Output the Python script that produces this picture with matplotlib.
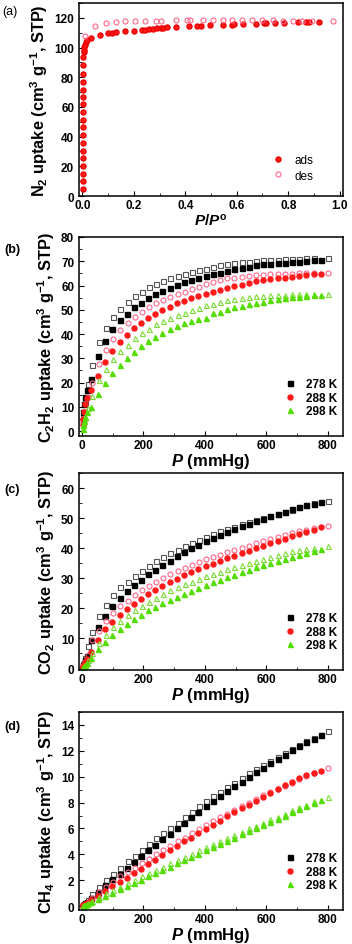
import matplotlib
matplotlib.use('Agg')
import matplotlib.pyplot as plt
from matplotlib.ticker import MultipleLocator

plt.rcParams.update({
    'font.family': ['Liberation Sans', 'DejaVu Sans'],
    'font.weight': 'bold',
    'mathtext.fontset': 'custom',
    'mathtext.rm': 'Liberation Sans:bold',
    'mathtext.it': 'Liberation Sans:bold:italic',
    'mathtext.bf': 'Liberation Sans:bold',
    'axes.linewidth': 1.1,
    'xtick.direction': 'in',
    'ytick.direction': 'in',
    'xtick.major.size': 3.5,
    'ytick.major.size': 3.5,
    'xtick.minor.size': 2,
    'ytick.minor.size': 2,
    'xtick.major.pad': 2.5,
    'xtick.labelsize': 8.5,
    'ytick.labelsize': 8.5,
})

# ---- (a) N2 isotherm ----
n2_ads_x = [0.002, 0.002, 0.002, 0.002, 0.002, 0.002, 0.002, 0.002, 0.002, 0.002,
            0.002, 0.002, 0.002, 0.003, 0.003, 0.003, 0.003, 0.004, 0.005, 0.006,
            0.008, 0.010, 0.013, 0.018, 0.035, 0.068, 0.100, 0.115, 0.130, 0.165,
            0.200, 0.230, 0.245, 0.260, 0.275, 0.290, 0.305, 0.315, 0.330, 0.365,
            0.415, 0.445, 0.460, 0.495, 0.545, 0.580, 0.590, 0.625, 0.675, 0.705,
            0.715, 0.750, 0.785, 0.840, 0.870, 0.880, 0.920]
n2_ads_y = [4.5, 9.8, 15, 20.2, 25.4, 30.6, 35.8, 41, 46.2, 51.4,
            56.6, 61.8, 67, 71.5, 77, 82.2, 88, 93.8, 96.8, 98.6,
            100.2, 102, 103.5, 105, 106.5, 108.3, 109.5, 110, 110.4, 111,
            111.4, 111.8, 112.1, 112.4, 112.7, 113, 113.2, 113.4, 113.7, 114,
            114.3, 114.5, 114.8, 115, 115.3, 115.5, 115.6, 115.8, 116, 116.2,
            116.3, 116.5, 116.8, 117, 117.2, 117.3, 117.5]
n2_des_x = [0.010, 0.050, 0.090, 0.130, 0.165, 0.205, 0.245, 0.285, 0.305, 0.365,
            0.405, 0.420, 0.467, 0.506, 0.545, 0.583, 0.622, 0.661, 0.700, 0.741,
            0.780, 0.819, 0.855, 0.894, 0.974]
n2_des_y = [107.5, 114.2, 116.2, 117, 117.6, 117.8, 118, 118.2, 118.2, 118.3,
            118.3, 118.3, 118.4, 118.4, 118.4, 118.4, 118.4, 118.4, 118.3, 118.3,
            118.2, 118.1, 118, 118, 117.8]

# ---- pressure points shared by panels (b)-(d), mmHg ----
p_ads = [2, 4, 7, 11, 16, 28, 51, 75, 98, 122, 145, 168, 192, 215, 239, 262, 286, 309, 332,
         356, 379, 403, 426, 449, 473, 496, 520, 543, 566, 590, 613, 637, 660, 683, 707,
         730, 754, 777]
p_des = [4, 9, 18, 31, 55, 78, 102, 125, 148, 171, 194, 217, 240, 264, 288, 311, 334, 357,
         380, 403, 426, 449, 473, 496, 520, 543, 566, 590, 613, 637, 660, 683, 707, 730,
         754, 800]

# ---- (b) C2H2 ----
c2h2_278_ads = [4, 8, 11, 14, 17, 21.5, 31, 37, 41.9, 45.6, 48.2, 51, 52.9, 54.7, 56.4, 57.9,
                59, 60.4, 61.4, 62.3, 63.2, 64, 64.7, 65.3, 66, 66.7, 67.1, 67.8, 68.4, 68.8,
                69, 69.1, 69.3, 69.5, 69.9, 70.3, 70.5, 70.7]
c2h2_278_des = [6, 12, 19.5, 27.3, 36.6, 42.6, 47.1, 50.5, 53.3, 55.6, 57.5, 59.2, 60.6, 61.8,
                62.9, 63.8, 64.6, 65.4, 66.2, 67, 67.8, 68.4, 68.9, 69.3, 69.6, 69.9, 70.1,
                70.4, 70.5, 70.7, 70.8, 71, 71.1, 71.2, 71.2, 71.2]
c2h2_288_ads = [2.5, 5, 8, 11, 13.5, 17, 22.8, 28.4, 33, 36.6, 39.8, 42.5, 44.7, 46.6, 48.2,
                49.8, 51.3, 52.6, 53.8, 54.9, 55.8, 56.4, 57.4, 58.2, 58.9, 59.7, 60.4, 61.1,
                61.8, 62.2, 62.6, 62.9, 63.3, 63.7, 64, 64.3, 64.6, 64.7]
c2h2_288_des = [4, 8, 14, 19.9, 27.8, 33.5, 38, 41.5, 44.5, 47, 49.2, 51, 52.6, 54, 55.3, 56.5,
                57.5, 58.5, 59.5, 60.8, 61.5, 62.2, 62.9, 63.3, 63.7, 64, 64.2, 64.4, 64.7,
                64.7, 64.9, 64.9, 65.1, 65.1, 65.1, 65.1]
c2h2_298_ads = [1, 2.5, 4, 6, 8, 10, 15.3, 20, 24, 27.3, 30.2, 32.7, 35, 37, 38.8, 40.5, 42,
                43.3, 44.4, 45.5, 46.2, 46.8, 48.5, 49.2, 50.3, 51, 51.6, 52.3, 53, 53.4, 54,
                54.4, 54.8, 55.1, 55.3, 55.8, 56, 56.2]
c2h2_298_des = [3, 6, 9.5, 14.5, 21, 25.8, 29.7, 33, 35.7, 38.2, 40.3, 42.2, 44, 45.3, 46.6,
                47.8, 48.8, 49.9, 50.9, 51.8, 52.5, 53.3, 53.9, 54.4, 54.8, 55.2, 55.5, 55.7,
                55.9, 56.1, 56.3, 56.4, 56.5, 56.6, 56.7, 56.5]

# ---- (c) CO2 ----
co2_278_ads = [0.5, 1, 1.8, 2.8, 4, 9.5, 13.7, 17.6, 20.8, 23.6, 25.8, 27.7, 29.5, 31.3, 32.9,
               34.3, 35.9, 37.3, 38.6, 40, 41.1, 42.3, 43.3, 44.4, 45.4, 46.3, 47.3, 48.1, 49,
               49.8, 50.6, 51.4, 52.1, 52.9, 53.6, 54.2, 54.7, 55.2]
co2_278_des = [1.5, 3.5, 7.5, 12, 17.5, 21.2, 24.3, 27, 28.9, 30.8, 32.5, 34, 35.6, 37, 38.3,
               39.5, 40.6, 41.7, 42.7, 43.8, 44.7, 45.6, 46.5, 47.2, 47.9, 48.6, 49.3, 50,
               50.7, 51.4, 52.1, 52.8, 53.6, 54.3, 54.9, 55.7]
co2_288_ads = [0.3, 0.7, 1.2, 2, 3, 5.5, 9.6, 13, 15.5, 17.7, 19.8, 21.6, 23.2, 24.7, 26.1,
               27.4, 28.7, 29.9, 31, 32, 33, 34, 34.9, 35.8, 36.6, 37.4, 38.3, 39.1, 39.9,
               40.8, 41.6, 42.4, 43.1, 43.9, 44.7, 45.5, 46.2, 46.9]
co2_288_des = [0.8, 2, 4.5, 9.5, 12.6, 15.8, 18.3, 20.8, 22.6, 24.5, 26.1, 27.5, 28.9, 30.2,
               31.4, 32.5, 33.5, 34.5, 35.4, 36.3, 37.1, 37.8, 38.6, 39.3, 40, 40.8, 41.6,
               42.3, 43, 43.7, 44.3, 45, 45.6, 46.2, 46.7, 47.4]
co2_298_ads = [0.2, 0.4, 0.7, 1.1, 1.8, 3.5, 6.4, 8.8, 11.1, 13.1, 14.8, 16.4, 17.9, 19.3,
               20.5, 21.7, 22.8, 23.8, 24.9, 25.9, 26.9, 27.8, 28.6, 29.5, 30.4, 31.2, 32,
               32.7, 33.6, 34.3, 35, 35.7, 36.3, 37, 37.6, 38.3, 39, 39.8]
co2_298_des = [0.5, 1.2, 2.8, 5.3, 8.5, 11.1, 13.9, 15.9, 17.7, 19.5, 20.8, 22.2, 23.6, 24.9,
               26, 27.1, 28, 28.9, 29.8, 30.6, 31.4, 32.1, 33, 33.7, 34.4, 35.1, 35.8, 36.5,
               37.2, 37.9, 38.5, 39, 39.4, 39.7, 40, 40.6]

# ---- (d) CH4 ----
ch4_278_ads = [0.05, 0.1, 0.15, 0.25, 0.35, 0.6, 1.1, 1.6, 2.1, 2.5, 2.95, 3.4, 3.85, 4.35,
               4.75, 5.2, 5.6, 6.05, 6.45, 6.9, 7.3, 7.7, 8.1, 8.5, 8.9, 9.25, 9.6, 10, 10.35,
               10.7, 11.05, 11.4, 11.7, 12.05, 12.35, 12.65, 12.95, 13.2]
ch4_278_des = [0.1, 0.25, 0.5, 0.95, 1.5, 2, 2.5, 2.95, 3.45, 3.9, 4.35, 4.8, 5.25, 5.65, 6.05,
               6.45, 6.9, 7.3, 7.7, 8.1, 8.5, 8.85, 9.2, 9.55, 9.9, 10.25, 10.6, 10.9, 11.25,
               11.55, 11.85, 12.15, 12.45, 12.75, 13.0, 13.5]
ch4_288_ads = [0.03, 0.07, 0.12, 0.18, 0.26, 0.45, 0.8, 1.2, 1.55, 1.9, 2.2, 2.55, 2.9, 3.25,
               3.6, 3.95, 4.3, 4.65, 5, 5.3, 5.65, 5.95, 6.3, 6.6, 6.95, 7.25, 7.55, 7.85,
               8.15, 8.45, 8.75, 9.05, 9.35, 9.6, 9.9, 10.1, 10.3, 10.45]
ch4_288_des = [0.05, 0.15, 0.35, 0.65, 1.1, 1.5, 1.9, 2.3, 2.6, 2.95, 3.3, 3.65, 4, 4.35, 4.65,
               5, 5.3, 5.65, 5.95, 6.25, 6.55, 6.85, 7.15, 7.45, 7.75, 8, 8.3, 8.55, 8.8, 9.05,
               9.3, 9.55, 9.8, 10.05, 10.3, 10.65]
ch4_298_ads = [0.02, 0.04, 0.07, 0.11, 0.16, 0.3, 0.55, 0.8, 1.05, 1.3, 1.55, 1.8, 2.05, 2.3,
               2.55, 2.8, 3.05, 3.3, 3.55, 3.8, 4.05, 4.3, 4.55, 4.8, 5.05, 5.3, 5.55, 5.8,
               6.05, 6.3, 6.5, 6.75, 7, 7.25, 7.5, 7.7, 7.95, 8.2]
ch4_298_des = [0.04, 0.1, 0.22, 0.4, 0.7, 1, 1.25, 1.5, 1.8, 2.05, 2.3, 2.55, 2.8, 3.05, 3.3,
               3.55, 3.8, 4.05, 4.3, 4.55, 4.8, 5.05, 5.3, 5.5, 5.75, 6, 6.2, 6.45, 6.7, 6.9,
               7.15, 7.4, 7.65, 7.85, 8.1, 8.45]

temps = ['278 K', '288 K', '298 K']
ads_style = [('s', '#000000'), ('o', '#ff1a1a'), ('^', '#55dd00')]
des_color = ['#555555', '#ff6688', '#77dd33']
MS = 3.6

W, H = 352, 945
fig = plt.figure(figsize=(W / 100, H / 100), dpi=100)


def box(top, bottom):
    return [79 / W, 1 - bottom / H, 264 / W, (bottom - top) / H]


def gas_panel(rect, ads_sets, des_sets, ylim, ymaj, gas_label, tag, tag_y):
    ax = fig.add_axes(rect)
    for (mk, col), des_col, ya, yd, lab in zip(ads_style, des_color, ads_sets, des_sets, temps):
        ax.plot(p_des, yd, mk, ms=MS, mfc='none', mec=des_col, mew=0.8, ls='none')
        ax.plot(p_ads, ya, mk, ms=MS, color=col, mec=col, ls='none', label=lab)
    ax.set_xlim(-10, 850)
    ax.set_ylim(*ylim)
    ax.xaxis.set_major_locator(MultipleLocator(200))
    ax.xaxis.set_minor_locator(MultipleLocator(100))
    ax.yaxis.set_major_locator(MultipleLocator(ymaj))
    ax.yaxis.set_minor_locator(MultipleLocator(ymaj / 2))
    ax.set_xlabel(r'$P$ (mmHg)', fontsize=12, fontweight='bold', labelpad=0)
    ax.set_ylabel(gas_label + r' uptake (cm$^{3}$ g$^{-1}$, STP)', fontsize=11.8,
                  fontweight='bold', labelpad=3)
    ax.legend(loc='lower right', frameon=False, fontsize=8.5, handlelength=1.0,
              handletextpad=0.85, labelspacing=0.12, borderpad=0, borderaxespad=0,
              bbox_to_anchor=(0.977, 0.095))
    fig.text(4 / W, 1 - tag_y / H, tag, fontsize=9, fontweight='bold', va='center')
    return ax


# panel (a)
ax = fig.add_axes(box(4, 197))
ax.plot(n2_ads_x, n2_ads_y, 'o', ms=MS, color='#ff1a1a', mec='#ee0000', ls='none', label='ads')
ax.plot(n2_des_x, n2_des_y, 'o', ms=MS, mfc='none', mec='#ff6688', mew=0.8, ls='none', label='des')
ax.set_xlim(-0.013, 1.013)
ax.set_ylim(0, 130)
ax.xaxis.set_major_locator(MultipleLocator(0.2))
ax.xaxis.set_minor_locator(MultipleLocator(0.1))
ax.yaxis.set_major_locator(MultipleLocator(20))
ax.yaxis.set_minor_locator(MultipleLocator(10))
ax.set_xlabel(r'$P$/$P^{\mathrm{o}}$', fontsize=11, fontweight='bold', labelpad=0)
ax.set_ylabel(r'N$_{2}$ uptake (cm$^{3}$ g$^{-1}$, STP)', fontsize=11.8, fontweight='bold',
              labelpad=3)
ax.legend(loc='lower right', frameon=False, prop={'size': 8.5, 'weight': 'normal'},
          handlelength=1.0, handletextpad=0.85, labelspacing=0.28, borderpad=0,
          borderaxespad=0, bbox_to_anchor=(0.886, 0.075))
fig.text(2 / W, 1 - 12 / H, '(a)', fontsize=9, fontweight='normal', va='center')

gas_panel(box(238, 437), [c2h2_278_ads, c2h2_288_ads, c2h2_298_ads],
          [c2h2_278_des, c2h2_288_des, c2h2_298_des], (-2, 80), 10,
          r'C$_{2}$H$_{2}$', '(b)', 250)
gas_panel(box(474, 671), [co2_278_ads, co2_288_ads, co2_298_ads],
          [co2_278_des, co2_288_des, co2_298_des], (-0.5, 65), 10,
          r'CO$_{2}$', '(c)', 490)
gas_panel(box(713, 911), [ch4_278_ads, ch4_288_ads, ch4_298_ads],
          [ch4_278_des, ch4_288_des, ch4_298_des], (-0.3, 15), 2,
          r'CH$_{4}$', '(d)', 727)

fig.savefig('out.png', dpi=100)
